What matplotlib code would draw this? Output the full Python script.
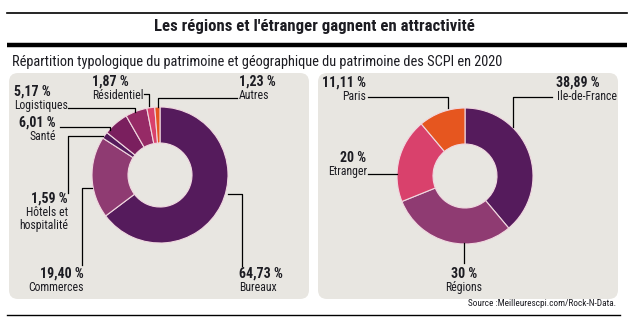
import matplotlib as mpl
import matplotlib.pyplot as plt
from matplotlib import font_manager
from matplotlib.patches import FancyBboxPatch

# police étroite si disponible
noms = {f.name for f in font_manager.fontManager.ttflist}
police = 'Roboto'
for cand in ['Liberation Sans Narrow', 'Roboto Condensed', 'Open Sans Condensed', 'DejaVu Sans Condensed']:
    if cand in noms:
        police = cand
        break
plt.rcParams['font.family'] = [police, 'DejaVu Sans']
etroit = police != 'Roboto'

# données
types = ['Bureaux', 'Commerces', 'Hôtels et\nhospitalité', 'Santé', 'Logistiques', 'Résidentiel', 'Autres']
types_val = [64.73, 19.40, 1.59, 6.01, 5.17, 1.87, 1.23]
types_lbl = ['64,73 %', '19,40 %', '1,59 %', '6,01 %', '5,17 %', '1,87 %', '1,23 %']
types_col = ['#551b5c', '#8f3b72', '#551b5c', '#7a1f5e', '#962a66', '#d9416c', '#e6561f']

geo = ['Ile-de-France', 'Régions', 'Etranger', 'Paris']
geo_val = [38.89, 30, 20, 11.11]
geo_lbl = ['38,89 %', '30 %', '20 %', '11,11 %']
geo_col = ['#551b5c', '#8f3b72', '#d9416c', '#e6561f']

W, H = 634, 331
Y = lambda y: H - y  # coordonnées pixel -> données
k = 1.0 if etroit else 0.82  # réduction si pas de police étroite
txt = '#1c1c22'

fig = plt.figure(figsize=(6.34, 3.31), dpi=100)
ax = fig.add_axes([0, 0, 1, 1])
bg = '#e8e6e1'

# panneaux
for x0 in (9, 318):
    ax.add_patch(FancyBboxPatch((x0, Y(299)), 300, 226, boxstyle='round,pad=0,rounding_size=9',
                                fc=bg, ec='none'))

# donuts
ax.pie(types_val, colors=types_col, startangle=90, counterclock=False, radius=68,
       center=(160, Y(175)), wedgeprops=dict(width=36, edgecolor='#f0d8e0', linewidth=0.8))
ax.pie(geo_val, colors=geo_col, startangle=90, counterclock=False, radius=68,
       center=(465, Y(176)), wedgeprops=dict(width=36, edgecolor='#f0d8e0', linewidth=0.8))

# titre et filets
ax.plot([7, 627], [Y(13), Y(13)], color='black', lw=1.2)
ax.text(314, Y(27), "Les régions et l'étranger gagnent en attractivité", ha='center', va='center',
        fontsize=12.1 * k, fontweight='bold', color=txt)
ax.plot([7, 627], [Y(45), Y(45)], color='black', lw=3.2, solid_capstyle='butt')
ax.text(12, Y(62), 'Répartition typologique du patrimoine et géographique du patrimoine des SCPI en 2020',
        ha='left', va='center', fontsize=10.4 * k, color=txt)
ax.plot([7, 620], [Y(315), Y(315)], color='black', lw=1)
ax.text(616, Y(303), 'Source :Meilleurescpi.com/Rock-N-Data.', ha='right', va='center',
        fontsize=6.7 * k, color=txt)

lc = dict(color='black', lw=0.9)


def label(x, y, i, names, lbls, ha, xn=None):
    # pourcentage en gras, puis le nom en dessous
    if xn is None:
        xn = x
    ax.text(x, Y(y), lbls[i], ha=ha, va='center', fontsize=10 * k, fontweight='bold', color=txt)
    ax.text(xn, Y(y + 7), names[i], ha=ha, va='top', fontsize=8.5 * k, linespacing=0.95, color=txt)


def line(xs, ys):
    ax.plot(xs, [Y(v) for v in ys], **lc)


# étiquettes gauche
label(92, 82, 5, types, types_lbl, 'left')
line([144, 149, 149], [94, 94, 106])
label(239, 82, 6, types, types_lbl, 'left')
line([158, 158, 237], [107, 98, 98])
label(14, 92, 4, types, types_lbl, 'left')
line([68, 135, 135], [108, 108, 112])
label(56, 123, 3, types, types_lbl, 'right')
line([60, 110, 110], [127, 127, 130])
label(68, 199, 2, types, types_lbl, 'right')
line([103, 68, 68], [136, 136, 193])
label(84, 274, 1, types, types_lbl, 'right')
line([92, 82, 82], [188, 188, 265])
label(239, 274, 0, types, types_lbl, 'left')
line([228, 242, 242], [194, 194, 266])

# étiquettes droite
label(366, 83, 3, geo, geo_lbl, 'right')
line([368, 448, 448], [97, 97, 108])
label(600, 83, 0, geo, geo_lbl, 'right', xn=617)
line([552, 513, 513], [97, 97, 127])
label(366, 158, 2, geo, geo_lbl, 'right', xn=367)
line([368, 397], [174, 174])
label(464, 274, 1, geo, geo_lbl, 'center')
line([464, 464], [243, 263])

ax.set_xlim(0, W)
ax.set_ylim(0, H)
ax.set_aspect('auto')
ax.axis('off')
fig.savefig('out.png', dpi=100)
